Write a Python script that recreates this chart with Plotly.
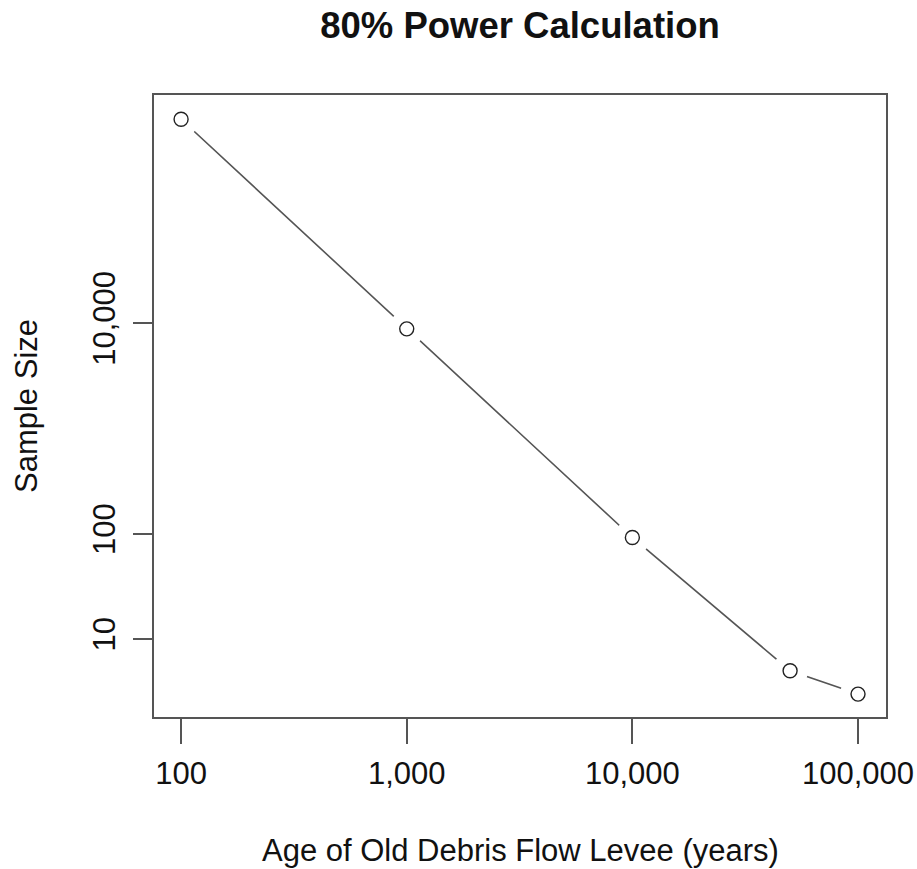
import plotly.graph_objects as go

# Data
age_years = [100, 1000, 10000, 50000, 100000]
sample_size = [860000, 8800, 92, 5, 3]

x_tick_vals = [100, 1000, 10000, 100000]
x_tick_text = ["100", "1,000", "10,000", "100,000"]
y_tick_vals = [10, 100, 10000]
y_tick_text = ["10", "100", "10,000"]

FONT = "Liberation Sans, Arial, Helvetica, sans-serif"

fig = go.Figure()
# connecting line
fig.add_trace(go.Scatter(x=age_years, y=sample_size, mode="lines",
                         line=dict(color="#555555", width=1.6),
                         hoverinfo="skip", showlegend=False))
# white gap around points (R type="b")
fig.add_trace(go.Scatter(x=age_years, y=sample_size, mode="markers",
                         marker=dict(symbol="circle", size=36, color="white",
                                     line=dict(width=0)),
                         hoverinfo="skip", showlegend=False))
# open circles
fig.add_trace(go.Scatter(x=age_years, y=sample_size, mode="markers",
                         marker=dict(symbol="circle-open", size=14, color="#222222",
                                     line=dict(width=1.4, color="#222222")),
                         showlegend=False))

W, H = 917, 869
L, R, T, B = 154, 31, 95, 152

fig.update_layout(
    width=W, height=H,
    margin=dict(l=L, r=R, t=T, b=B, autoexpand=False),
    paper_bgcolor="white", plot_bgcolor="white",
    font=dict(family=FONT, color="#111111", size=31),
    title=dict(text="<b>80% Power Calculation</b>", x=(L + (W - R)) / 2 / W, xanchor="center",
               y=1 - 25 / H, yanchor="middle", font=dict(size=36.5, family=FONT, color="#111111")),
    xaxis=dict(type="log", range=[1.880, 5.124], tickvals=x_tick_vals, ticktext=x_tick_text,
               showgrid=False, zeroline=False, showline=True, mirror=True, automargin=False,
               linecolor="#555555", linewidth=1.6,
               ticks="outside", ticklen=25, tickwidth=1.6, tickcolor="#555555",
               ticklabelstandoff=3, tickfont=dict(size=31)),
    yaxis=dict(type="log", range=[0.2595, 6.1646], tickvals=y_tick_vals, ticktext=y_tick_text,
               showgrid=False, zeroline=False, showline=True, mirror=True, automargin=False,
               linecolor="#555555", linewidth=1.6,
               ticks="outside", ticklen=19, tickwidth=1.6, tickcolor="#555555",
               tickangle=-90, ticklabelstandoff=6, tickfont=dict(size=31)),
    annotations=[
        dict(text="Age of Old Debris Flow Levee (years)", xref="paper", yref="paper",
             x=0.5, y=-(850 - (H - B)) / (H - T - B), xanchor="center", yanchor="middle",
             showarrow=False, font=dict(size=31)),
        dict(text="Sample Size", xref="paper", yref="paper", textangle=-90,
             x=-(L - 26) / (W - L - R), y=0.5, xanchor="center", yanchor="middle",
             showarrow=False, font=dict(size=31)),
    ],
)

fig.write_html("out.html")
